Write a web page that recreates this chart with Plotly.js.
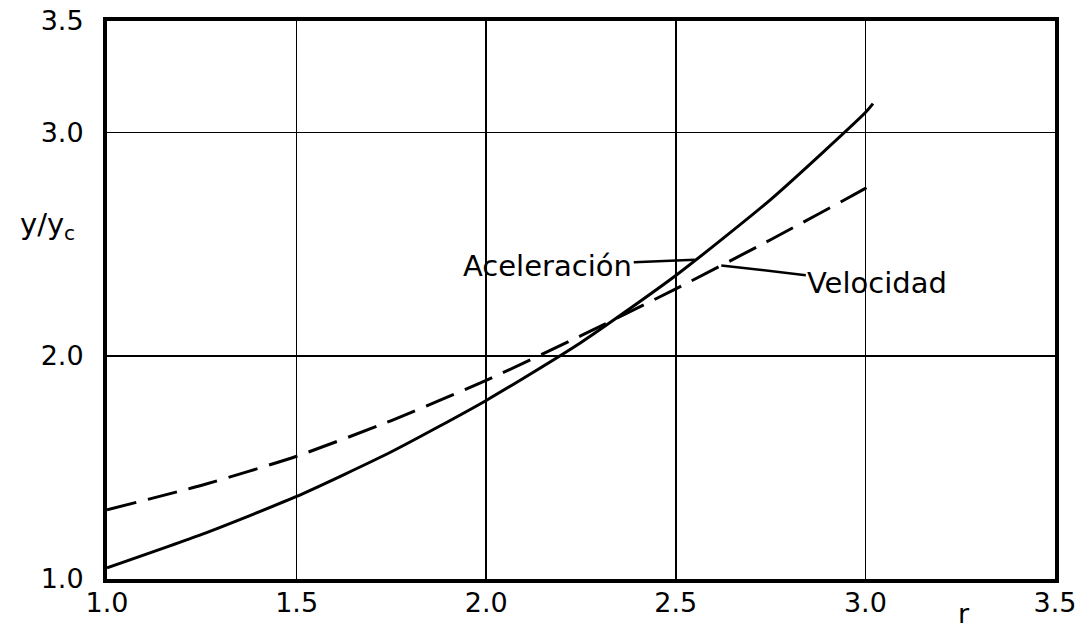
<!DOCTYPE html>
<html>
<head>
<meta charset="utf-8">
<script src="https://cdn.plot.ly/plotly-3.0.1.min.js"></script>
<style>
  html, body { margin: 0; padding: 0; background: #fff; }
  #chart { width: 1091px; height: 630px; }
</style>
</head>
<body>
<div id="chart"></div>
<script>
// Relative depth y/yc against r, for the acceleration and velocity criteria
const rAcel = [1.0, 1.25, 1.5, 1.75, 2.0, 2.25, 2.5, 2.75, 3.0, 3.02];
const yAcel = [1.05, 1.20, 1.37, 1.57, 1.80, 2.06, 2.36, 2.70, 3.09, 3.13];

const rVel = [1.0, 1.25, 1.5, 1.75, 2.0, 2.25, 2.5, 2.75, 3.0, 3.03];
const yVel = [1.31, 1.42, 1.55, 1.71, 1.89, 2.09, 2.30, 2.52, 2.75, 2.78];

// Axis ticks
const xTicks = [1.0, 1.5, 2.0, 2.5, 3.0, 3.5];
const xTickText = ["1.0", "1.5", "2.0", "2.5", "3.0", "3.5"];
const yTicks = [1.0, 2.0, 3.0, 3.5];
const yTickText = ["1.0", "2.0", "3.0", "3.5"];

// Curve labels and the point on each curve their leader lines reach
const labelAcel = "Aceleración";
const labelVel = "Velocidad";
const leaderAcelR = 2.55, leaderAcelY = 2.43;
const leaderVelR = 2.62, leaderVelY = 2.405;

const FONT = "DejaVu Sans, Liberation Sans, sans-serif";

const traces = [
  {
    x: rAcel, y: yAcel, name: labelAcel, type: "scatter", mode: "lines",
    line: { color: "#000", width: 3, shape: "spline", smoothing: 0.6 },
    hoverinfo: "skip"
  },
  {
    x: rVel, y: yVel, name: labelVel, type: "scatter", mode: "lines",
    line: { color: "#000", width: 3, dash: "30px,12px", shape: "spline", smoothing: 0.6 },
    hoverinfo: "skip"
  }
];

const layout = {
  width: 1091, height: 630,
  margin: { l: 107, r: 36, t: 21, b: 51 },
  paper_bgcolor: "#fff", plot_bgcolor: "#fff",
  showlegend: false,
  font: { family: FONT, color: "#000", size: 27 },
  xaxis: {
    range: [1.0, 3.5],
    tickmode: "array", tickvals: xTicks, ticktext: xTickText,
    ticks: "", ticklabelstandoff: -3,
    showgrid: true, gridcolor: "#000", gridwidth: 1.5,
    zeroline: false,
    showline: true, linecolor: "#000", linewidth: 4, mirror: true,
    tickfont: { family: FONT, size: 27, color: "#000" }
  },
  yaxis: {
    range: [1.0, 3.5],
    tickmode: "array", tickvals: yTicks, ticktext: yTickText,
    ticks: "", ticklabelstandoff: 14,
    showgrid: true, gridcolor: "#000", gridwidth: 1.5,
    zeroline: false,
    showline: true, linecolor: "#000", linewidth: 4, mirror: true,
    tickfont: { family: FONT, size: 27, color: "#000" }
  },
  annotations: [
    {
      x: leaderAcelR, y: leaderAcelY, xref: "x", yref: "y",
      text: labelAcel, showarrow: true, arrowhead: 0, arrowwidth: 2.5,
      arrowcolor: "#000", ax: -147, ay: 6, standoff: 0, startstandoff: 0,
      font: { family: FONT, size: 29, color: "#000" }
    },
    {
      x: leaderVelR, y: leaderVelY, xref: "x", yref: "y",
      text: labelVel, showarrow: true, arrowhead: 0, arrowwidth: 2.5,
      arrowcolor: "#000", ax: 156, ay: 18, standoff: 0, startstandoff: 0,
      font: { family: FONT, size: 29, color: "#000" }
    },
    {
      x: 3.26, y: 0, xref: "x", yref: "paper", yanchor: "middle", yshift: -34,
      text: "r", showarrow: false,
      font: { family: FONT, size: 27, color: "#000" }
    },
    {
      x: 0, y: 2.58, xref: "paper", yref: "y", xanchor: "right", xshift: -30,
      text: "y/y<sub>c</sub>", showarrow: false,
      font: { family: FONT, size: 29, color: "#000" }
    }
  ]
};

Plotly.newPlot("chart", traces, layout, { staticPlot: true, displayModeBar: false });
</script>
</body>
</html>
